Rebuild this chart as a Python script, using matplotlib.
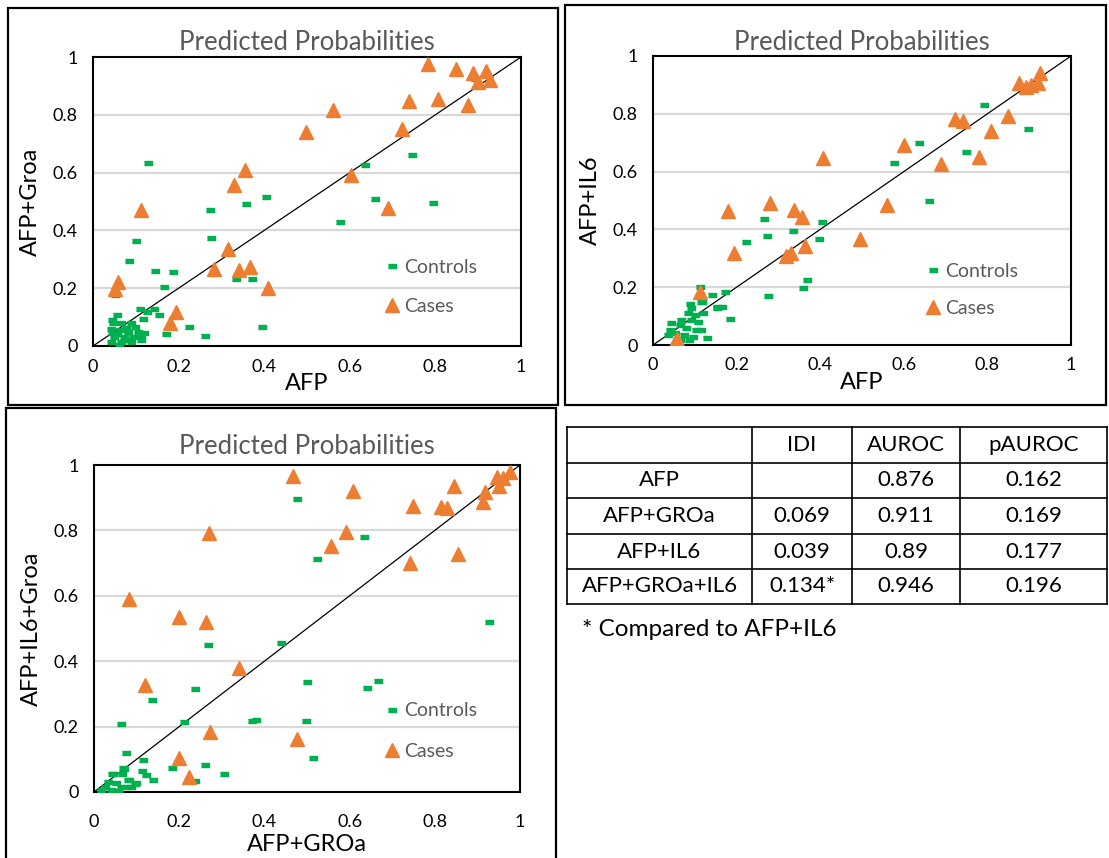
import matplotlib
matplotlib.use("Agg")
import matplotlib.pyplot as plt
from matplotlib.patches import Rectangle

plt.rcParams['font.family'] = ['Lato', 'DejaVu Sans']

# ---------------- data ----------------
p1_ctrl_x = [0.892, 0.746, 0.636, 0.659, 0.794, 0.576, 0.404, 0.357, 0.273, 0.129, 0.100, 0.275,
             0.083, 0.144, 0.186, 0.165, 0.333, 0.371, 0.052, 0.396, 0.225, 0.262, 0.170, 0.154,
             0.142, 0.110, 0.125, 0.057, 0.116, 0.046, 0.066, 0.089, 0.042, 0.062, 0.081, 0.105,
             0.050, 0.073, 0.093, 0.112, 0.042, 0.066, 0.089, 0.112, 0.044, 0.055, 0.078, 0.098,
             0.120, 0.060, 0.085, 0.045]
p1_ctrl_y = [0.924, 0.662, 0.628, 0.509, 0.494, 0.430, 0.517, 0.490, 0.470, 0.634, 0.364, 0.372,
             0.294, 0.258, 0.255, 0.203, 0.231, 0.231, 0.176, 0.066, 0.066, 0.035, 0.040, 0.106,
             0.127, 0.129, 0.116, 0.108, 0.095, 0.078, 0.078, 0.078, 0.060, 0.055, 0.049, 0.049,
             0.031, 0.031, 0.031, 0.031, 0.014, 0.014, 0.014, 0.021, 0.090, 0.040, 0.062, 0.065,
             0.045, 0.005, 0.022, 0.045]
p1_case_x = [0.782, 0.848, 0.889, 0.919, 0.899, 0.928, 0.876, 0.739, 0.807, 0.561, 0.723, 0.498,
             0.356, 0.329, 0.603, 0.690, 0.113, 0.315, 0.282, 0.340, 0.367, 0.409, 0.059, 0.051,
             0.193, 0.179]
p1_case_y = [0.977, 0.957, 0.945, 0.953, 0.915, 0.919, 0.834, 0.849, 0.855, 0.816, 0.750, 0.742,
             0.610, 0.556, 0.593, 0.477, 0.469, 0.335, 0.267, 0.262, 0.273, 0.200, 0.221, 0.198,
             0.116, 0.081]

p2_ctrl_x = [0.791, 0.896, 0.636, 0.748, 0.576, 0.660, 0.404, 0.265, 0.273, 0.334, 0.396, 0.223,
             0.368, 0.358, 0.274, 0.173, 0.140, 0.113, 0.185, 0.165, 0.153, 0.117, 0.128, 0.116,
             0.088, 0.092, 0.152, 0.084, 0.100, 0.120, 0.068, 0.092, 0.108, 0.044, 0.064, 0.080,
             0.116, 0.041, 0.053, 0.073, 0.096, 0.037, 0.065, 0.085, 0.104]
p2_ctrl_y = [0.830, 0.746, 0.699, 0.668, 0.629, 0.497, 0.427, 0.435, 0.377, 0.396, 0.366, 0.358,
             0.225, 0.198, 0.171, 0.182, 0.173, 0.201, 0.090, 0.133, 0.129, 0.148, 0.023, 0.148,
             0.142, 0.127, 0.133, 0.110, 0.104, 0.110, 0.087, 0.087, 0.081, 0.075, 0.069, 0.058,
             0.052, 0.052, 0.040, 0.035, 0.029, 0.035, 0.017, 0.017, 0.052]
p2_case_x = [0.927, 0.875, 0.892, 0.905, 0.920, 0.723, 0.742, 0.849, 0.809, 0.781, 0.690, 0.601,
             0.407, 0.561, 0.496, 0.281, 0.179, 0.337, 0.356, 0.193, 0.317, 0.330, 0.364, 0.112,
             0.053, 0.058]
p2_case_y = [0.940, 0.908, 0.893, 0.900, 0.905, 0.782, 0.776, 0.792, 0.742, 0.652, 0.627, 0.693,
             0.647, 0.484, 0.367, 0.492, 0.465, 0.468, 0.444, 0.317, 0.308, 0.317, 0.344, 0.185,
             0.012, 0.020]

p3_ctrl_x = [0.477, 0.634, 0.523, 0.927, 0.439, 0.267, 0.499, 0.642, 0.666, 0.238, 0.135, 0.211,
             0.372, 0.380, 0.497, 0.063, 0.515, 0.074, 0.116, 0.182, 0.261, 0.304, 0.238, 0.113,
             0.121, 0.138, 0.070, 0.065, 0.042, 0.083, 0.096, 0.077, 0.068, 0.045, 0.080, 0.099,
             0.052, 0.033, 0.025, 0.064, 0.087, 0.017, 0.041, 0.057]
p3_ctrl_y = [0.895, 0.779, 0.713, 0.520, 0.456, 0.449, 0.335, 0.318, 0.339, 0.314, 0.281, 0.214,
             0.216, 0.221, 0.218, 0.208, 0.105, 0.119, 0.099, 0.074, 0.082, 0.054, 0.033, 0.063,
             0.051, 0.036, 0.071, 0.054, 0.054, 0.036, 0.023, 0.015, 0.072, 0.056, 0.036, 0.028,
             0.028, 0.031, 0.015, 0.015, 0.015, 0.005, 0.005, 0.004]
p3_case_x = [0.468, 0.609, 0.846, 0.945, 0.961, 0.977, 0.951, 0.918, 0.912, 0.748, 0.815, 0.829,
             0.592, 0.556, 0.271, 0.742, 0.854, 0.083, 0.199, 0.262, 0.340, 0.120, 0.273, 0.477,
             0.199, 0.223]
p3_case_y = [0.966, 0.921, 0.936, 0.962, 0.959, 0.980, 0.936, 0.918, 0.888, 0.874, 0.872, 0.867,
             0.796, 0.753, 0.791, 0.699, 0.727, 0.589, 0.534, 0.520, 0.378, 0.327, 0.184, 0.162,
             0.105, 0.046]

axis_ticks = [0, 0.2, 0.4, 0.6, 0.8, 1]
tick_labels = ['0', '0.2', '0.4', '0.6', '0.8', '1']
series_names = ['Controls', 'Cases']

tbl_header = ['', 'IDI', 'AUROC', 'pAUROC']
tbl_models = ['AFP', 'AFP+GROa', 'AFP+IL6', 'AFP+GROa+IL6']
tbl_idi = ['', '0.069', '0.039', '0.134*']
tbl_auroc = ['0.876', '0.911', '0.89', '0.946']
tbl_pauroc = ['0.162', '0.169', '0.177', '0.196']
footnote = '* Compared to AFP+IL6'

# ---------------- style ----------------
W, H = 1109, 858
GREEN = '#00B050'
ORANGE = '#ED7D31'
GRAY = '#595959'
GRID = '#D9D9D9'
dash = [(-1, -0.42), (1, -0.42), (1, 0.42), (-1, 0.42)]

fig = plt.figure(figsize=(W / 100, H / 100), dpi=100)


def fax(l, t, r, b):
    return fig.add_axes([l / W, 1 - b / H, (r - l) / W, (b - t) / H])


def frame(l, t, r, b):
    fig.patches.append(Rectangle((l / W, 1 - b / H), (r - l) / W, (b - t) / H,
                                 transform=fig.transFigure, fill=False,
                                 edgecolor='black', linewidth=1.6, zorder=0))


def panel(box, cx, cy, kx, ky, xlabel, ylabel, leg_anchor, leg_space,
          xtick_pad, xlab_off, title_pad):
    l, t, r, b = box
    ax = fax(l, t, r, b)
    ax.set_xlim(0, 1)
    ax.set_ylim(0, 1)
    ax.set_xticks(axis_ticks)
    ax.set_xticklabels(tick_labels)
    ax.set_yticks(axis_ticks)
    ax.set_yticklabels(tick_labels)
    ax.tick_params(length=0, labelsize=13, labelcolor='black')
    ax.tick_params(axis='x', pad=xtick_pad)
    ax.tick_params(axis='y', pad=11)
    for yv in axis_ticks[1:-1]:
        ax.axhline(yv, color=GRID, lw=1.6, zorder=0)
    for s in ax.spines.values():
        s.set_linewidth(1.5)
        s.set_color('black')
    ax.plot([0, 1], [0, 1], color='black', lw=0.9, zorder=2)
    ax.plot(cx, cy, ls='none', marker=dash, ms=6.2, color=GREEN, mec=GREEN, zorder=3,
            label=series_names[0])
    ax.plot(kx, ky, ls='none', marker='^', ms=9.5, color=ORANGE, mec=ORANGE, zorder=4,
            label=series_names[1])
    ax.legend(loc='center left', bbox_to_anchor=leg_anchor, frameon=False,
              fontsize=14, handlelength=0.95, handletextpad=0.15, borderpad=0,
              borderaxespad=0, labelspacing=leg_space, labelcolor=GRAY)
    ax.set_title('Predicted Probabilities', color=GRAY, fontsize=18.5, pad=title_pad)
    ax.set_xlabel(xlabel, fontsize=17)
    ax.set_ylabel(ylabel, fontsize=17)
    ax.xaxis.set_label_coords(0.5, -xlab_off / (b - t))
    ax.yaxis.set_label_coords(-52 / (r - l), 0.5)
    return ax


frame(8, 8, 558, 405)
frame(565, 5, 1106, 405)
frame(6, 408, 556, 875)

panel((93, 57, 521, 346), p1_ctrl_x, p1_ctrl_y, p1_case_x, p1_case_y,
      'AFP', 'AFP+Groa', (0.677, 0.204), 1.12, 9, 27, 5)
panel((653, 56, 1071, 345), p2_ctrl_x, p2_ctrl_y, p2_case_x, p2_case_y,
      'AFP', 'AFP+IL6', (0.648, 0.19), 1.05, 9, 27, 4.5)
panel((94, 465, 520, 792), p3_ctrl_x, p3_ctrl_y, p3_case_x, p3_case_y,
      'AFP+GROa', 'AFP+IL6+Groa', (0.678, 0.186), 1.22, 16, 42, 8)

# ---------------- table ----------------
tab = fax(0, 0, W, H)
tab.set_xlim(0, W)
tab.set_ylim(H, 0)
tab.axis('off')
col_edges = [567, 752, 852, 960, 1107]
row_edges = [427, 463, 498, 534, 569, 604]
for xe in col_edges:
    tab.plot([xe, xe], [row_edges[0], row_edges[-1]], color='black', lw=1.2)
for ye in row_edges:
    tab.plot([col_edges[0], col_edges[-1]], [ye, ye], color='black', lw=1.2)
rows = [tbl_header] + [[m, i, a, p] for m, i, a, p in zip(tbl_models, tbl_idi, tbl_auroc, tbl_pauroc)]
for ri, row in enumerate(rows):
    yc = (row_edges[ri] + row_edges[ri + 1]) / 2
    for ci, txt in enumerate(row):
        xc = (col_edges[ci] + col_edges[ci + 1]) / 2
        tab.text(xc, yc, txt, ha='center', va='center', fontsize=16, color='black')
tab.text(582, 629, footnote, ha='left', va='center', fontsize=17.5, color='black')

fig.savefig('out.png', dpi=100)
